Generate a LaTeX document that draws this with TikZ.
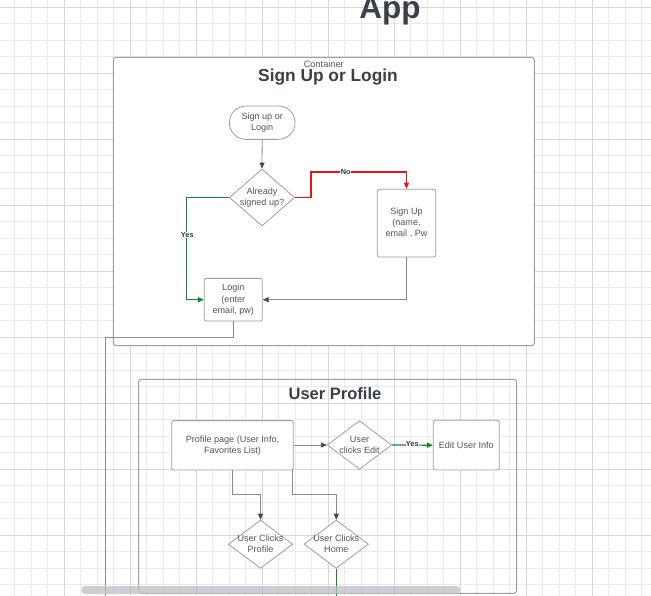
\documentclass[tikz,border=0pt]{standalone}
\usepackage{fontspec}
\setmainfont{Liberation Sans}
\usetikzlibrary{arrows.meta,shapes.geometric,calc}
\definecolor{gridmin}{RGB}{234,234,234}
\definecolor{gridmaj}{RGB}{214,214,214}
\definecolor{bord}{RGB}{158,158,158}
\definecolor{conn}{RGB}{140,140,140}
\definecolor{tipc}{RGB}{70,74,80}
\definecolor{txtc}{RGB}{80,86,92}
\definecolor{ttlc}{RGB}{58,64,72}
\definecolor{nored}{RGB}{235,20,20}
\definecolor{yesgreen}{RGB}{20,135,40}
\definecolor{scrollc}{RGB}{190,192,198}
\newcommand{\myNodeFont}{\fontsize{6.8}{8.3}\selectfont}
\begin{document}
\begin{tikzpicture}[x=0.75pt,y=-0.75pt,
  gminor/.style={draw=gridmin,line width=0.75pt},
  gmajor/.style={draw=gridmaj,line width=0.75pt},
  contbox/.style={draw=bord,rectangle,rounded corners=2pt,line width=0.75pt},
  box/.style={draw=bord,fill=white,rectangle,rounded corners=1.5pt,line width=0.6pt,text=txtc,font=\myNodeFont,align=center,inner sep=1pt},
  dia/.style={draw=bord,fill=white,diamond,inner sep=0pt,line width=0.6pt},
  diatext/.style={text=txtc,font=\myNodeFont,align=center,inner sep=0pt},
  conline/.style={draw=conn,line width=0.6pt},
  con/.style={conline,-{Triangle[length=4.5pt,width=3.8pt,color=tipc]}},
  redcon/.style={draw=nored,line width=0.9pt,-{Triangle[length=4.5pt,width=3.8pt]}},
  greencon/.style={draw=yesgreen,line width=0.9pt,-{Triangle[length=4.5pt,width=3.8pt]}},
  greenline/.style={draw=yesgreen,line width=0.9pt},
  yn/.style={fill=white,text=black!80,font=\fontsize{5.5}{6}\selectfont\bfseries,inner sep=0.3pt},
  ttl/.style={text=ttlc,font=\fontsize{13}{15}\selectfont\bfseries,anchor=base}
]
\useasboundingbox (0,0) rectangle (651,596);
\fill[white] (0,0) rectangle (651,596);
% grid
\foreach \k in {0,...,38} \draw[gminor] ({14.9+16.5*\k},0) -- ({14.9+16.5*\k},596);
\foreach \k in {0,...,35} \draw[gminor] (0,{7.3+16.5*\k}) -- (651,{7.3+16.5*\k});
\foreach \k in {1,...,9} \draw[gmajor] ({-1.3+66*\k},0) -- ({-1.3+66*\k},596);
\foreach \k in {0,...,8} \draw[gmajor] (0,{7.3+66*\k}) -- (651,{7.3+66*\k});

% App title
\node[text=ttlc,font=\fontsize{23.6}{26}\selectfont\bfseries,anchor=base] (apptitle) at (390,18.5) {App};

% Container 1
\node[contbox,fill=white,minimum width=315.75pt,minimum height=216.3pt] (c1) at (323.8,201.5) {};
\node[text=txtc,font=\fontsize{6.9}{8}\selectfont,anchor=base] (c1lbl) at (323.8,67.7) {Container};
\node[ttl] (c1title) at (328,81.7) {Sign Up or Login};

\node[box,rounded corners=12.5pt,minimum width=49.3pt,minimum height=25pt] (start) at (262.2,122.7) {Sign up or\\Login};
\node[dia,minimum width=49pt,minimum height=42.75pt,label={[diatext]center:Already\\signed up?}] (d1) at (262,197.5) {};
\node[box,minimum width=43.8pt,minimum height=50.8pt] (signup) at (406.5,223.2) {Sign Up\\(name,\\email , Pw};
\node[box,minimum width=43.5pt,minimum height=32pt] (login) at (233.3,299.7) {Login\\(enter\\email, pw)};

\draw[con] (start.south) -- (d1.north);
\draw[redcon] (d1.east) -- ++(16,0) |- ($(signup.north)+(0,-17)$) -- (signup.north);
\node[yn] (nolbl) at (345.7,172.3) {No};
\draw[greencon] (d1.west) -- ++(-42.7,0) |- (login.west);
\node[yn] (yeslbl) at (187.3,235) {Yes};
\draw[con] (signup.south) |- (login.east);
\coordinate (out1) at (105,600);
\draw[conline] (login.south) -- ++(0,16.3) -| (out1);

% Container 2
\node[contbox,minimum width=283.35pt,minimum height=160.5pt] (c2) at (327.6,486.3) {};
\node[ttl,font=\fontsize{12.4}{14}\selectfont\bfseries] (c2title) at (335,399) {User Profile};

\node[box,minimum width=91.2pt,minimum height=37pt] (profile) at (232.5,445.3) {Profile page (User Info,\\Favorites List)};
\node[dia,minimum width=48.3pt,minimum height=36.5pt,label={[diatext]center:User\\clicks Edit}] (dedit) at (359.5,445) {};
\node[box,minimum width=49.5pt,minimum height=37.3pt] (edit) at (466.3,445.2) {Edit User Info};
\node[dia,minimum width=48.3pt,minimum height=36.2pt,label={[diatext]center:User Clicks\\Profile}] (dprof) at (260.5,544.2) {};
\node[dia,minimum width=48.3pt,minimum height=36.2pt,label={[diatext]center:User Clicks\\Home}] (dhome) at (336.3,544.2) {};

\draw[con] (profile.east |- dedit.west) -- (dedit.west);
\draw[greencon] (dedit.east) -- (edit.west);
\node[yn] (yes2lbl) at (412.3,444.5) {Yes};
\draw[con] (profile.south) -- ++(0,24.5) -| (dprof.north);
\draw[con] ($(profile.south east)+(-1.3,0)$) -- ++(0,24.5) -| (dhome.north);
\coordinate (out2) at (336.3,600);
\draw[greenline] (dhome.south) -- (out2);

% scrollbar
\fill[scrollc,fill opacity=0.75,rounded corners=2.5pt] (81.5,586) rectangle (460,594);
\end{tikzpicture}
\end{document}
